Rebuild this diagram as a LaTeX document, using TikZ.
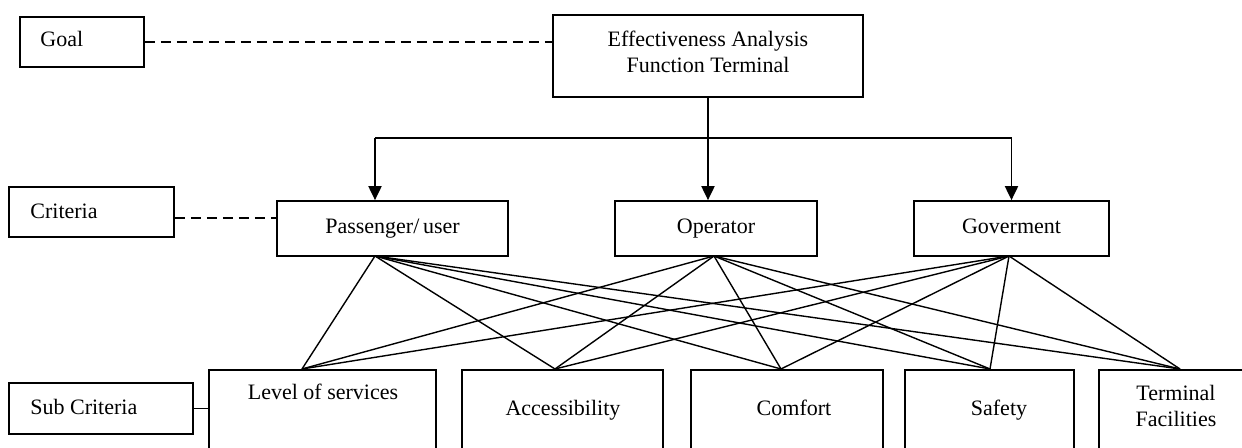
\documentclass[tikz,border=0pt]{standalone}
\usepackage{fontspec}
\setmainfont{Liberation Serif}
\usetikzlibrary{arrows.meta}

\begin{document}
\begin{tikzpicture}[x=0.5pt, y=-0.5pt,
  box/.style={draw, line width=0.85pt, inner sep=0pt, font=\fontsize{11}{13}\selectfont,
    text height=7.6pt, text depth=2.4pt},
  frame/.style={draw, line width=0.85pt, inner sep=0pt},
  txt/.style={inner sep=0pt, font=\fontsize{11}{13}\selectfont,
    text height=7.6pt, text depth=2.4pt},
  txtlines/.style={inner sep=0pt, font=\fontsize{11}{13}\selectfont, align=center},
  dashlink/.style={line width=0.7pt, dash pattern=on 5pt off 3pt},
  link/.style={line width=0.7pt},
  feed/.style={line width=0.95pt},
  feedarrow/.style={line width=0.95pt, -{Triangle[length=7pt, width=6.5pt]}}
]
\useasboundingbox (0,0) rectangle (1242,448);
\clip (0,0) rectangle (1242,448);

% level labels on the left
\node[frame, minimum width=62pt, minimum height=25pt] (goal) at (82,42) {};
\node[txt, anchor=west] at (40,41) {Goal};
\node[frame, minimum width=82.5pt, minimum height=25pt] (crit) at (91.5,212) {};
\node[txt, anchor=west] at (30,213) {Criteria};
\node[frame, minimum width=92pt, minimum height=25.5pt] (subc) at (101,408.5) {};
\node[txt, anchor=west] at (30,409) {Sub Criteria};

% goal
\node[frame, minimum width=155pt, minimum height=41pt] (top) at (708,56) {};
\node[txtlines] at (708,52) {Effectiveness Analysis\\Function Terminal};

% criteria
\node[box, minimum width=115.5pt, minimum height=27.5pt] (pass) at (392.5,228.5) {Passenger/\,user};
\node[box, minimum width=101pt, minimum height=27.5pt] (op) at (716,228.5) {Operator};
\node[box, minimum width=97.5pt, minimum height=27.5pt] (gov) at (1011.5,228.5) {Goverment};

% sub criteria (boxes run past the lower edge)
\node[frame, minimum width=113.5pt, minimum height=55pt, anchor=north] (lev) at (322.5,369) {};
\node[txt] at (323,394) {Level of services};
\node[frame, minimum width=100.5pt, minimum height=55pt, anchor=north] (acc) at (562.5,369) {};
\node[txt] at (563,410) {Accessibility};
\node[frame, minimum width=96pt, minimum height=55pt, anchor=north] (com) at (787,369) {};
\node[txt] at (794,410) {Comfort};
\node[frame, minimum width=84.5pt, minimum height=55pt, anchor=north] (saf) at (989.5,369) {};
\node[txt] at (999,410) {Safety};
\node[frame, minimum width=77pt, minimum height=55pt, anchor=north] (ter) at (1176,369) {};
\node[txtlines] at (1176,406) {Terminal\\Facilities};

% attachment points of the links
\coordinate (pA) at (375,256);
\coordinate (oA) at (714,256);
\coordinate (gA) at (1009,256);
\coordinate (sL) at (302,369);
\coordinate (sA) at (555,369);
\coordinate (sC) at (781,369);
\coordinate (sS) at (990,369);
\coordinate (sT) at (1180,369);
\coordinate (bus) at (708,138);

% level links
\draw[dashlink] (goal.east) -- (goal.east -| top.west);
\draw[dashlink] ([yshift=-3pt]crit.east) -- ([yshift=-3pt]crit.east -| pass.west);
\draw[link, line width=0.85pt] (subc.east) -- (subc.east -| lev.west);

% goal to criteria
\draw[feedarrow] (top.south) -- (top.south |- op.north);
\draw[feed] (bus -| pA) -- (bus -| gov.north);
\draw[feedarrow] (bus -| pA) -- (pA |- pass.north);
\draw[feedarrow] (bus -| gov.north) -- (gov.north);

% criteria to sub criteria
\foreach \c in {pA,oA,gA}
  \foreach \s in {sL,sA,sC,sS,sT}
    \draw[link] (\c) -- (\s);
\end{tikzpicture}
\end{document}
